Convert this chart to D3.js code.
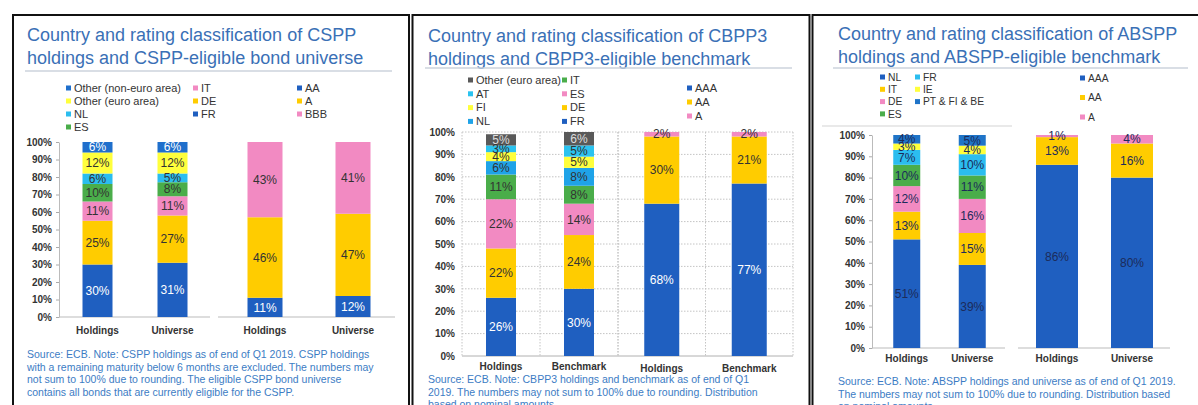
<!DOCTYPE html>
<html>
<head>
<meta charset="utf-8">
<script src="https://cdn.jsdelivr.net/npm/d3@7"></script>
<style>
  html, body { margin: 0; padding: 0; background: #ffffff; }
  svg { display: block; font-family: "Liberation Sans", Arial, sans-serif; }
</style>
</head>
<body>
<svg id="chart" width="1198" height="405"></svg>
<script>
// ---------- CSPP ----------
const csppCategories = ["Holdings", "Universe"];
const csppCountryKeys = ["FR", "DE", "IT", "ES", "NL", "Other (euro area)", "Other (non-euro area)"];
const csppCountryHoldings = [30, 25, 11, 10, 6, 12, 6];
const csppCountryUniverse = [31, 27, 11, 8, 5, 12, 6];
const csppRatingKeys = ["AA", "A", "BBB"];
const csppRatingHoldings = [11, 46, 43];
const csppRatingUniverse = [12, 47, 41];

// ---------- CBPP3 ----------
const cbppCategories = ["Holdings", "Benchmark"];
const cbppCountryKeys = ["FR", "DE", "ES", "IT", "NL", "FI", "AT", "Other (euro area)"];
const cbppCountryHoldings = [26, 22, 22, 11, 6, 4, 3, 5];
const cbppCountryBenchmark = [30, 24, 14, 8, 8, 5, 5, 6];
const cbppRatingKeys = ["AAA", "AA", "A"];
const cbppRatingHoldings = [68, 30, 2];
const cbppRatingBenchmark = [77, 21, 2];

// ---------- ABSPP ----------
const absppCategories = ["Holdings", "Universe"];
const absppCountryKeys = ["NL", "IT", "DE", "ES", "FR", "IE", "PT & FI & BE"];
const absppCountryHoldings = [51, 13, 12, 10, 7, 3, 4];
const absppCountryUniverse = [39, 15, 16, 11, 10, 4, 5];
const absppRatingKeys = ["AAA", "AA", "A"];
const absppRatingHoldings = [86, 13, 1];
const absppRatingUniverse = [80, 16, 4];

const yTicks = [0, 10, 20, 30, 40, 50, 60, 70, 80, 90, 100];

// ---------- palette ----------
const BLUE = "#1f5fc0", GOLD = "#ffcc00", PINK = "#f28ac2", GREEN = "#4aad4a",
      CYAN = "#2bbdef", YELLOW = "#ffff3c", GREY = "#595959";

const csppCountryColors = { "FR": BLUE, "DE": GOLD, "IT": PINK, "ES": GREEN, "NL": CYAN,
  "Other (euro area)": YELLOW, "Other (non-euro area)": "#1f6fcc" };
const cbppCountryColors = { "FR": BLUE, "DE": GOLD, "ES": PINK, "IT": GREEN, "NL": "#1fa3e8",
  "FI": YELLOW, "AT": "#2bc3f0", "Other (euro area)": GREY };
const absppCountryColors = { "NL": BLUE, "IT": GOLD, "DE": PINK, "ES": GREEN, "FR": CYAN,
  "IE": YELLOW, "PT & FI & BE": "#1f74c8" };
const ratingColorsAA = { "AA": BLUE, "A": GOLD, "BBB": PINK };
const ratingColorsAAA = { "AAA": BLUE, "AA": GOLD, "A": PINK };

const TITLE = "#3a70b6", NOTE = "#3c7cc4", TEXT = "#333333";

const svg = d3.select("#chart");

// ---------- helpers ----------
function frame(x, y, w, h) {
  svg.append("rect").attr("x", x).attr("y", y).attr("width", w).attr("height", h)
    .attr("fill", "none").attr("stroke", "#111").attr("stroke-width", 2);
}

function title(x, y0, lines) {
  const t = svg.append("text").attr("x", x).attr("y", y0)
    .attr("fill", TITLE).attr("font-size", 18);
  lines.forEach((l, i) => t.append("tspan").attr("x", x).attr("dy", i === 0 ? 0 : 23).text(l));
}

function rule(x1, x2, y, color, w) {
  svg.append("line").attr("x1", x1).attr("x2", x2).attr("y1", y).attr("y2", y)
    .attr("stroke", color).attr("stroke-width", w);
}

function note(x, y0, lines) {
  const t = svg.append("text").attr("x", x).attr("y", y0)
    .attr("fill", NOTE).attr("font-size", 10.5);
  lines.forEach((l, i) => t.append("tspan").attr("x", x).attr("dy", i === 0 ? 0 : 12.5).text(l));
}

function legend(keys, colors, x, y0, dy, fontSize) {
  const g = svg.append("g");
  keys.forEach((k, i) => {
    const y = y0 + i * dy;
    g.append("rect").attr("x", x).attr("y", y - 2.5).attr("width", 5).attr("height", 5).attr("fill", colors[k]);
    g.append("text").attr("x", x + 8).attr("y", y).attr("dy", "0.35em")
      .attr("font-size", fontSize).attr("fill", TEXT).text(k);
  });
}

// band scale whose bands are centred in equal steps across [x0, x1]
function bandScale(categories, x0, x1, barWidth) {
  const step = (x1 - x0) / categories.length;
  const pi = 1 - barWidth / step;
  return d3.scaleBand().domain(categories).range([x0, x1]).paddingInner(pi).paddingOuter(pi / 2);
}

function stackedBars(x, y, categories, keys, valuesByCategory, colors, labelColor, fontSize) {
  const table = categories.map((c, i) => {
    const row = { category: c };
    keys.forEach((k, j) => { row[k] = valuesByCategory[i][j]; });
    return row;
  });
  const series = d3.stack().keys(keys)(table);
  const g = svg.append("g");
  series.forEach(s => {
    s.forEach(d => {
      g.append("rect")
        .attr("x", x(d.data.category)).attr("width", x.bandwidth())
        .attr("y", y(d[1])).attr("height", y(d[0]) - y(d[1]))
        .attr("fill", colors[s.key]);
    });
  });
  series.forEach(s => {
    s.forEach(d => {
      const v = d[1] - d[0];
      g.append("text")
        .attr("x", x(d.data.category) + x.bandwidth() / 2)
        .attr("y", y((d[0] + d[1]) / 2)).attr("dy", "0.35em")
        .attr("text-anchor", "middle").attr("font-size", fontSize)
        .attr("fill", labelColor(s.key)).text(v + "%");
    });
  });
}

function categoryLabels(x, yPos, categories) {
  categories.forEach(c => {
    svg.append("text").attr("x", x(c) + x.bandwidth() / 2).attr("y", yPos).attr("dy", "0.35em")
      .attr("text-anchor", "middle").attr("font-size", 10).attr("font-weight", "bold")
      .attr("fill", TEXT).text(c);
  });
}

function yAxis(y, xPos, tickSize, showDomain) {
  const ax = d3.axisLeft(y).tickValues(yTicks).tickFormat(d => d + "%")
    .tickSize(tickSize).tickSizeOuter(0).tickPadding(7 - tickSize);
  const g = svg.append("g").attr("transform", `translate(${xPos},0)`).call(ax);
  g.selectAll("text").attr("font-size", 10).attr("font-weight", "bold").attr("fill", TEXT)
    .attr("font-family", "'Liberation Sans', Arial, sans-serif");
  g.selectAll("line").attr("stroke", "#aaa");
  g.select(".domain").attr("stroke", showDomain ? "#bbb" : "none");
}

const lightOnBlue = (blueKeys, greyKeys) => k =>
  blueKeys.includes(k) ? "#ffffff" : (greyKeys.includes(k) ? "#dddddd" : TEXT);

// ================= Panel 1: CSPP =================
frame(13, 15, 396, 400);
title(27, 41, ["Country and rating classification of CSPP", "holdings and CSPP-eligible bond universe"]);
rule(25, 392, 71, "#cdd3dc", 1.5);
legend(["Other (non-euro area)", "Other (euro area)", "NL", "ES"], csppCountryColors, 66, 88, 13, 11);
legend(["IT", "DE", "FR"], csppCountryColors, 193, 88, 13, 11);
legend(csppRatingKeys, ratingColorsAA, 297, 88, 13, 11);

const y1 = d3.scaleLinear().domain([0, 100]).range([317, 142]);
yAxis(y1, 59, 3, true);
const x1c = bandScale(csppCategories, 60, 210, 30);
const x1r = bandScale(csppCategories, 221, 397, 35);
rule(59, 210, 317, "#bbb", 1);
rule(218, 395, 317, "#bbb", 1);
const p1Label = lightOnBlue(["FR", "Other (non-euro area)", "AA"], []);
stackedBars(x1c, y1, csppCategories, csppCountryKeys, [csppCountryHoldings, csppCountryUniverse],
  csppCountryColors, p1Label, 12);
stackedBars(x1r, y1, csppCategories, csppRatingKeys, [csppRatingHoldings, csppRatingUniverse],
  ratingColorsAA, p1Label, 12);
categoryLabels(x1c, 330, csppCategories);
categoryLabels(x1r, 330, csppCategories);
note(27, 358, [
  "Source: ECB. Note: CSPP holdings as of end of Q1 2019. CSPP holdings",
  "with a remaining maturity below 6 months are excluded. The numbers may",
  "not sum to 100% due to rounding. The eligible CSPP bond universe",
  "contains all bonds that are currently eligible for the CSPP."
]);

// ================= Panel 2: CBPP3 =================
frame(412.5, 15, 397, 400);
title(428, 42, ["Country and rating classification of CBPP3", "holdings and CBPP3-eligible benchmark"]);
rule(425, 792, 68, "#cdd3dc", 1.5);
legend(["Other (euro area)", "AT", "FI", "NL"], cbppCountryColors, 468, 80, 13.8, 11);
legend(["IT", "ES", "DE", "FR"], cbppCountryColors, 562, 80, 13.8, 11);
legend(cbppRatingKeys, ratingColorsAAA, 687, 88, 14, 11);

const y2 = d3.scaleLinear().domain([0, 100]).range([356, 132]);
const x2c = bandScale(cbppCategories, 462, 618, 30);
const x2r = bandScale(cbppCategories, 618, 793, 35);
// dotted grid
yTicks.forEach(t => {
  svg.append("line").attr("x1", 462).attr("x2", 793).attr("y1", y2(t)).attr("y2", y2(t))
    .attr("stroke", t === 0 ? "#b0b0b0" : "#c4c4c4").attr("stroke-width", 1)
    .attr("stroke-dasharray", t === 0 ? null : "1.5,1.5");
});
[x2c, x2r].forEach(x => {
  const step = x.step();
  const edges = x.domain().map(c => x(c) - x.paddingInner() * step / 2);
  edges.push(x.range()[1]);
  edges.forEach(e => {
    svg.append("line").attr("x1", e).attr("x2", e).attr("y1", y2(100)).attr("y2", y2(0))
      .attr("stroke", "#c4c4c4").attr("stroke-dasharray", "1.5,1.5");
  });
});
yAxis(y2, 462, 0, false);
const p2Label = lightOnBlue(["FR", "AAA"], ["Other (euro area)"]);
stackedBars(x2c, y2, cbppCategories, cbppCountryKeys, [cbppCountryHoldings, cbppCountryBenchmark],
  cbppCountryColors, p2Label, 12);
stackedBars(x2r, y2, cbppCategories, cbppRatingKeys, [cbppRatingHoldings, cbppRatingBenchmark],
  ratingColorsAAA, p2Label, 12);
categoryLabels(x2c, 366, cbppCategories);
categoryLabels(x2r, 368, cbppCategories);
note(428, 383, [
  "Source: ECB. Note: CBPP3 holdings and benchmark as of end of Q1",
  "2019. The numbers may not sum to 100% due to rounding. Distribution",
  "based on nominal amounts."
]);

// ================= Panel 3: ABSPP =================
frame(812.5, 15, 400, 400);
title(838, 40, ["Country and rating classification of ABSPP", "holdings and ABSPP-eligible benchmark"]);
rule(833, 1188, 68, "#cdd3dc", 1.5);
legend(["NL", "IT", "DE", "ES"], absppCountryColors, 880, 77, 12.3, 10.3);
legend(["FR", "IE", "PT & FI & BE"], absppCountryColors, 915, 77, 12.3, 10.3);
legend(absppRatingKeys, ratingColorsAAA, 1080, 78, 19.5, 10.3);
rule(822, 1012, 126, "#e2e2e2", 1.5);

const y3 = d3.scaleLinear().domain([0, 100]).range([348, 135]);
yAxis(y3, 872, 3, true);
const x3c = bandScale(absppCategories, 874, 1005, 27);
const x3r = bandScale(absppCategories, 1019.5, 1169.5, 42);
rule(872, 1005, 348, "#bbb", 1);
rule(1018, 1170, 348, "#bbb", 1);
const p3Label = () => "#1c2b5a";
stackedBars(x3c, y3, absppCategories, absppCountryKeys, [absppCountryHoldings, absppCountryUniverse],
  absppCountryColors, p3Label, 12);
stackedBars(x3r, y3, absppCategories, absppRatingKeys, [absppRatingHoldings, absppRatingUniverse],
  ratingColorsAAA, p3Label, 12);
categoryLabels(x3c, 358, absppCategories);
categoryLabels(x3r, 358, absppCategories);
note(838, 385, [
  "Source: ECB. Note: ABSPP holdings and universe as of end of Q1 2019.",
  "The numbers may not sum to 100% due to rounding. Distribution based",
  "on nominal amounts."
]);
</script>
</body>
</html>
